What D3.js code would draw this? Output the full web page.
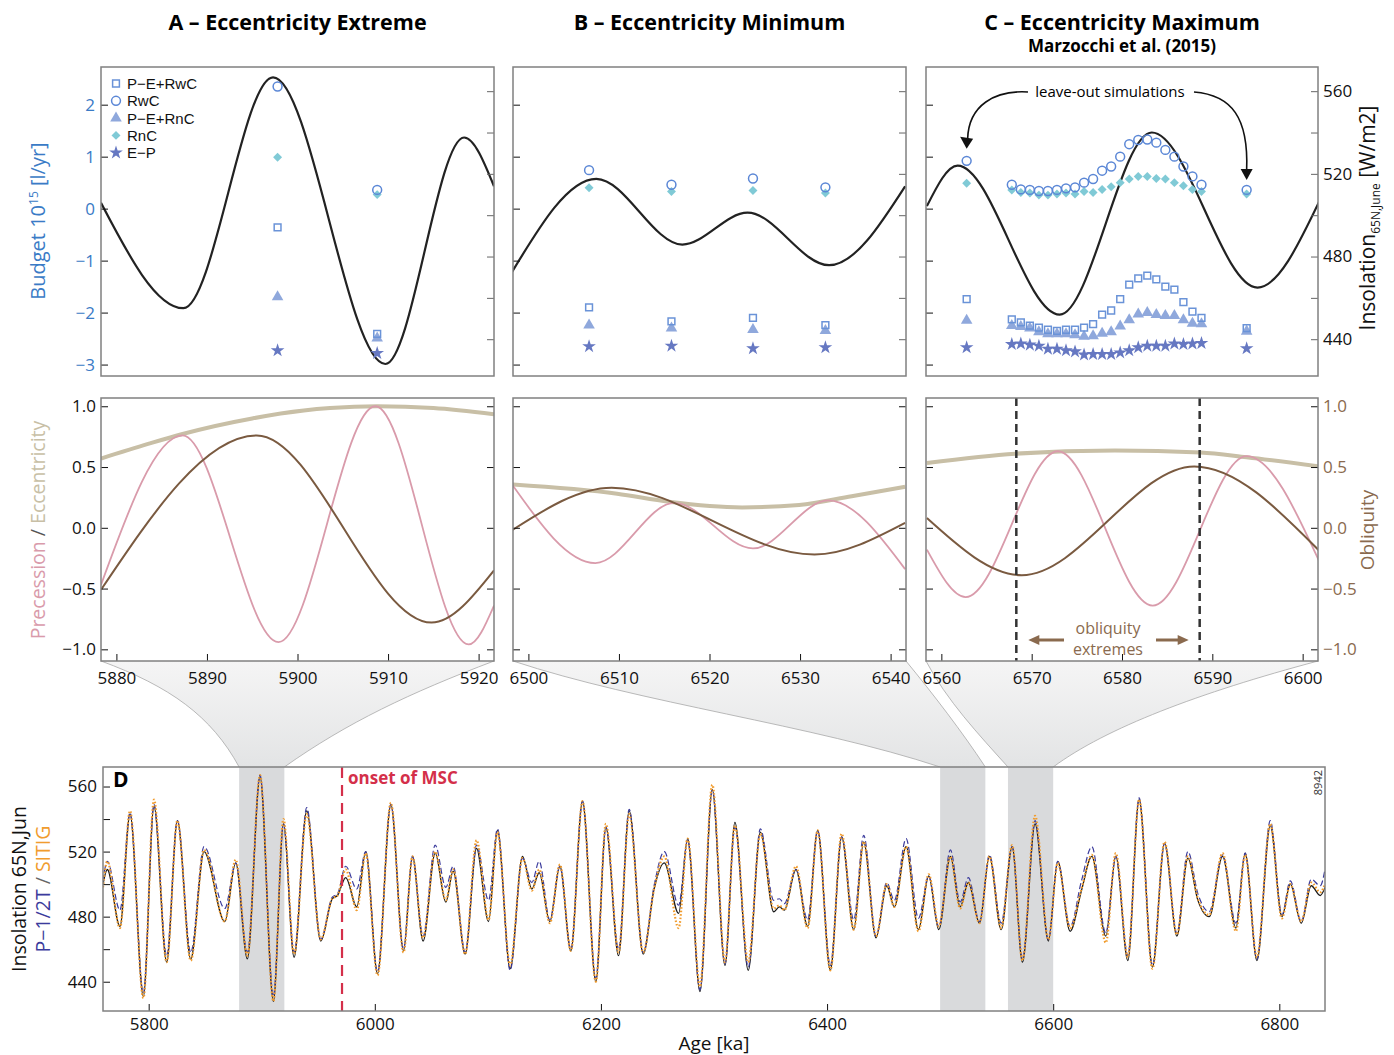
<!DOCTYPE html>
<html>
<head>
<meta charset="utf-8">
<script src="https://cdn.jsdelivr.net/npm/d3@7"></script>
<style>
  body { margin: 0; background: #fff; }
  text { font-family: "Open Sans", "Noto Sans", sans-serif; }
</style>
</head>
<body>
<svg id="chart" width="1394" height="1055"></svg>
<script>
// zoom windows (ka) and panel titles
const windowsKa = [[5880, 5920], [6500, 6540], [6560, 6600]];
const panelTitles = ["A – Eccentricity Extreme", "B – Eccentricity Minimum", "C – Eccentricity Maximum"];
const seriesNames = ["P−E+RwC", "RwC", "P−E+RnC", "RnC", "E−P"];
const mscOnset = 5971;
const obliquityExtremes = [6568.3, 6588.6];

// insolation 65N June in the zoom panels (W/m2)
const insolAgesA = [5878.3, 5887.4, 5897.3, 5909.7, 5918.4, 5921.7];
const insolValsA = [506, 455, 566.7, 428, 537.6, 514];
const insolAgesB = [6498.2, 6507.5, 6517.0, 6524.2, 6533.2, 6541.6];
const insolValsB = [472.6, 517.6, 485.8, 501.2, 475.8, 514];
const insolAgesC = [6558.4, 6561.8, 6573.1, 6583.3, 6595.0, 6601.8];
const insolValsC = [504.4, 524, 451.9, 540, 465, 506.3];

// budgets (10^15 l/yr) of the simulations
const simAgesA = [5897.8, 5908.8];
const pmeRwcA = [-0.36, -2.41];
const rwcA = [2.35, 0.36];
const pmeRncA = [-1.70, -2.49];
const rncA = [0.99, 0.27];
const epA = [-2.73, -2.78];

const simAgesB = [6506.7, 6515.8, 6524.8, 6532.8];
const pmeRwcB = [-1.90, -2.17, -2.10, -2.24];
const rwcB = [0.74, 0.46, 0.58, 0.41];
const pmeRncB = [-2.24, -2.30, -2.33, -2.35];
const rncB = [0.40, 0.33, 0.35, 0.30];
const epB = [-2.65, -2.64, -2.69, -2.67];

const simAgesC = [6562.8, 6567.8, 6568.8, 6569.8, 6570.8, 6571.8, 6572.8, 6573.8, 6574.8, 6575.8, 6576.8, 6577.8,
  6578.8, 6579.8, 6580.8, 6581.8, 6582.8, 6583.8, 6584.8, 6585.8, 6586.8, 6587.8, 6588.8, 6593.8];
const pmeRwcC = [-1.74, -2.13, -2.19, -2.25, -2.29, -2.33, -2.35, -2.33, -2.33, -2.29, -2.22, -2.04,
  -1.96, -1.74, -1.46, -1.34, -1.29, -1.36, -1.50, -1.56, -1.80, -1.98, -2.10, -2.30];
const rwcC = [0.92, 0.46, 0.37, 0.36, 0.34, 0.34, 0.36, 0.39, 0.41, 0.50, 0.57, 0.73,
  0.81, 1.00, 1.24, 1.32, 1.33, 1.27, 1.13, 1.00, 0.81, 0.62, 0.46, 0.36];
const pmeRncC = [-2.15, -2.25, -2.27, -2.30, -2.37, -2.41, -2.41, -2.41, -2.43, -2.46, -2.45, -2.40,
  -2.37, -2.26, -2.14, -2.03, -2.00, -2.04, -2.06, -2.06, -2.14, -2.21, -2.22, -2.36];
const rncC = [0.49, 0.36, 0.31, 0.30, 0.26, 0.26, 0.28, 0.30, 0.28, 0.33, 0.31, 0.37,
  0.42, 0.50, 0.57, 0.62, 0.62, 0.58, 0.57, 0.50, 0.44, 0.37, 0.33, 0.28];
const epC = [-2.67, -2.61, -2.60, -2.62, -2.64, -2.70, -2.70, -2.73, -2.75, -2.81, -2.80, -2.80,
  -2.80, -2.77, -2.73, -2.67, -2.64, -2.64, -2.64, -2.60, -2.61, -2.60, -2.59, -2.69];

// orbital parameters (normalised)
const eccAgesA = [5878.3, 5883.5, 5887.2, 5895, 5900.7, 5903.6, 5908.8, 5915, 5921.7];
const eccValsA = [0.57, 0.69, 0.77, 0.90, 0.965, 0.985, 1.0, 0.985, 0.935];
const precAgesA = [5878.3, 5887.3, 5897.9, 5908.6, 5918.9, 5921.7];
const precValsA = [-0.47, 0.76, -0.94, 1.0, -0.96, -0.64];
const oblAgesA = [5878.3, 5895.5, 5914.8, 5921.7];
const oblValsA = [-0.51, 0.76, -0.78, -0.35];

const eccAgesB = [6498.2, 6509.8, 6515.5, 6523.6, 6529.9, 6535.7, 6541.6];
const eccValsB = [0.356, 0.28, 0.214, 0.168, 0.188, 0.26, 0.337];
const precAgesB = [6498.2, 6507.4, 6516.1, 6524.8, 6533.1, 6541.6];
const precValsB = [0.356, -0.29, 0.205, -0.17, 0.225, -0.34];
const oblAgesB = [6498.2, 6509.2, 6531.6, 6541.6];
const oblValsB = [-0.02, 0.33, -0.22, 0.04];

const eccAgesC = [6558.4, 6568.2, 6579.2, 6588.7, 6593.8, 6601.8];
const eccValsC = [0.533, 0.61, 0.637, 0.62, 0.58, 0.505];
const precAgesC = [6558.4, 6562.7, 6572.9, 6583.4, 6593.8, 6601.8];
const precValsC = [-0.18, -0.57, 0.63, -0.64, 0.59, -0.27];
const oblAgesC = [6558.4, 6568.9, 6588.0, 6601.8];
const oblValsC = [0.08, -0.39, 0.505, -0.186];

// panel D: insolation 65N June, 5760-6840 ka (turning points)
const dAges = [5759.6, 5763.4, 5774.6, 5783.5, 5795.3, 5804.7, 5815.9, 5825.4, 5837.2, 5849, 5867.3, 5877,
  5887.3, 5898.5, 5910.3, 5919.2, 5928.6, 5939.8, 5952.2, 5962.4, 5967, 5974.3, 5984, 5992,
  6002.4, 6014.2, 6025.4, 6033.3, 6042.7, 6053.4, 6062.8, 6069.3, 6079.9, 6090, 6100.6, 6108.5,
  6119.7, 6130.6, 6138.9, 6145.4, 6154.8, 6163.7, 6173.4, 6183.7, 6195.5, 6204.4, 6215.6, 6225,
  6237.4, 6247, 6256, 6268.7, 6276.7, 6287.6, 6298.5, 6309.7, 6318.5, 6330.3, 6341, 6352.8,
  6357.8, 6362.2, 6372.5, 6382.8, 6391.7, 6402.9, 6412.9, 6423.6, 6432.4, 6443.3, 6452.8, 6459.5,
  6469.9, 6480.8, 6489.9, 6498.8, 6509.1, 6517.7, 6525, 6534.8, 6543.6, 6554, 6563.7, 6572.8,
  6584, 6595.8, 6604, 6615, 6625, 6634.2, 6646.5, 6655.4, 6666, 6676, 6687.8, 6698.5,
  6709.4, 6719.1, 6728, 6738, 6749.8, 6761.6, 6769.8, 6780.2, 6792, 6802.3, 6809.7, 6819.4,
  6828.2, 6836.2, 6840.4];
const dInsolation = [500, 509, 474, 543, 431, 548, 452, 539, 454, 520, 477, 513,
  454, 566, 428, 537, 455, 545, 465, 491, 493, 504, 486, 520,
  445, 549, 459, 517, 465, 519, 489, 508, 457, 522, 477, 533,
  448, 517, 497, 507, 477, 511, 459, 551, 440, 535, 456, 545,
  457, 497, 513, 482, 528, 434, 558, 450, 538, 447, 532, 483,
  486, 484, 509, 474, 533, 447, 529, 472, 526, 467, 499, 486,
  523, 472, 505, 472, 517, 486, 501, 476, 517, 472, 523, 452,
  537, 465, 514, 471, 496, 517, 468, 517, 453, 552, 449, 525,
  468, 516, 490, 480, 517, 473, 519, 453, 536, 480, 500, 476,
  499, 493, 498];
const dP12T = [502, 514, 484, 544, 433, 549, 456, 539, 458, 523, 485, 513,
  458, 567, 431, 537, 458, 547, 466, 492, 494, 511, 497, 520,
  446, 549, 460, 517, 468, 524, 498, 511, 458, 524, 490, 534,
  447, 516, 501, 514, 478, 511, 460, 551, 442, 535, 460, 546,
  458, 499, 520, 487, 527, 435, 558, 451, 535, 449, 534, 490,
  491, 488, 509, 478, 533, 450, 529, 478, 530, 468, 501, 490,
  528, 479, 505, 474, 521, 489, 504, 477, 518, 476, 523, 454,
  539, 466, 514, 474, 502, 523, 470, 517, 456, 553, 450, 525,
  470, 520, 494, 483, 518, 476, 519, 454, 539, 481, 502, 477,
  503, 499, 509];
const dSITIG = [498, 514, 473, 545, 430, 552, 452, 539, 453, 521, 477, 515,
  456, 567, 428, 540, 457, 543, 466, 491, 493, 509, 484, 519,
  444, 550, 458, 517, 467, 520, 490, 509, 457, 527, 478, 532,
  450, 516, 496, 509, 476, 512, 459, 551, 440, 537, 458, 543,
  458, 497, 517, 473, 528, 437, 561, 452, 536, 452, 531, 485,
  487, 484, 511, 473, 533, 447, 531, 472, 526, 468, 500, 486,
  523, 471, 506, 474, 517, 485, 501, 476, 517, 473, 524, 453,
  542, 466, 513, 473, 497, 518, 464, 519, 455, 552, 448, 526,
  469, 517, 491, 481, 519, 471, 518, 455, 537, 479, 500, 477,
  501, 495, 500];

// ---------------------------------------------------------------
const col = {
  budget: "#3a7bc6", prec: "#d99bab", ecc: "#c8bfa6", obl: "#7a5a40", oblText: "#8a6a4e",
  pmeRwc: "#6a93d8", rwc: "#5b87d6", pmeRnc: "#8fa8dc", rnc: "#80cad6", ep: "#6678c2",
  black: "#1a1a1a", blue: "#3b3b9c", orange: "#f19c2e", msc: "#d42f4a", band: "#d9dadc", frame: "#808080"
};

const svg = d3.select("#chart");
const panelX = [[101, 494], [513, 906], [926, 1318]];
const topY = [67, 376];
const midY = [398, 661];
const dBox = { x0: 103, x1: 1325, y0: 767, y1: 1011 };

const yBudget = d3.scaleLinear().domain([-3.22, 2.725]).range([topY[1], topY[0]]);
const yInsol = d3.scaleLinear().domain([422.2, 571.7]).range([topY[1], topY[0]]);
const yOrb = d3.scaleLinear().domain([-1.096, 1.068]).range([midY[1], midY[0]]);
const xD = d3.scaleLinear().domain([5759.6, 6840.4]).range([dBox.x0, dBox.x1]);
const yD = d3.scaleLinear().domain([422, 572]).range([dBox.y1, dBox.y0]);

const panels = [
  { insol: [insolAgesA, insolValsA], sims: [simAgesA, [pmeRwcA, rwcA, pmeRncA, rncA, epA]],
    ecc: [eccAgesA, eccValsA], prec: [precAgesA, precValsA], obl: [oblAgesA, oblValsA] },
  { insol: [insolAgesB, insolValsB], sims: [simAgesB, [pmeRwcB, rwcB, pmeRncB, rncB, epB]],
    ecc: [eccAgesB, eccValsB], prec: [precAgesB, precValsB], obl: [oblAgesB, oblValsB] },
  { insol: [insolAgesC, insolValsC], sims: [simAgesC, [pmeRwcC, rwcC, pmeRncC, rncC, epC]],
    ecc: [eccAgesC, eccValsC], prec: [precAgesC, precValsC], obl: [oblAgesC, oblValsC] }
];

const simStyles = [
  { type: d3.symbolSquare, size: 46, fill: "none", stroke: col.pmeRwc, rot: 0 },
  { type: d3.symbolCircle, size: 62, fill: "none", stroke: col.rwc, rot: 0 },
  { type: d3.symbolTriangle, size: 58, fill: col.pmeRnc, stroke: "none", rot: 0 },
  { type: d3.symbolSquare, size: 40, fill: col.rnc, stroke: "none", rot: 45 },
  { type: d3.symbolStar, size: 58, fill: col.ep, stroke: "none", rot: 0 }
];
const drawOrder = [2, 3, 4, 0, 1];

const zip = (a, b) => a.map((d, i) => [d, b[i]]);
const defs = svg.append("defs");

// gradient for the zoom funnels
const grad = defs.append("linearGradient").attr("id", "funnel").attr("x1", 0).attr("y1", 0).attr("x2", 0).attr("y2", 1);
grad.append("stop").attr("offset", "0%").attr("stop-color", "#f5f5f5");
grad.append("stop").attr("offset", "100%").attr("stop-color", "#e3e4e5");

// ---- funnels from middle panels to panel D
const funnelBends = [
  { left: [0.5, 0.24, 0.2, 0.48], right: [0.4, 0.3, 0.3, 0.42] },
  { left: [0.3, 0.4, 0.3, 0.4], right: [0.35, 0.32, 0.3, 0.34] },
  { left: [0.25, 0.37, 0.35, 0.3], right: [0.45, 0.3, 0.2, 0.37] }
];
function ctrl(p0, p1, b) {
  const dx = p1[0] - p0[0], dy = p1[1] - p0[1];
  return [[p0[0] + b[0] * dx, p0[1] + b[1] * dy], [p1[0] - b[2] * dx, p1[1] - b[3] * dy]];
}
windowsKa.forEach((w, i) => {
  const L0 = [panelX[i][0], midY[1]], R0 = [panelX[i][1], midY[1]];
  const L1 = [xD(w[0]), dBox.y0], R1 = [xD(w[1]), dBox.y0];
  const [lc1, lc2] = ctrl(L0, L1, funnelBends[i].left);
  const [rc1, rc2] = ctrl(R0, R1, funnelBends[i].right);
  const area = `M${L0}C${lc1} ${lc2} ${L1}L${R1}C${rc2} ${rc1} ${R0}Z`;
  svg.append("path").attr("d", area).attr("fill", "url(#funnel)");
  svg.append("path").attr("d", `M${L0}C${lc1} ${lc2} ${L1}`).attr("fill", "none").attr("stroke", "#a8a8a8").attr("stroke-width", 0.8);
  svg.append("path").attr("d", `M${R0}C${rc1} ${rc2} ${R1}`).attr("fill", "none").attr("stroke", "#a8a8a8").attr("stroke-width", 0.8);
});

function clip(id, x0, x1, y0, y1) {
  defs.append("clipPath").attr("id", id).append("rect").attr("x", x0).attr("y", y0).attr("width", x1 - x0).attr("height", y1 - y0);
  return `url(#${id})`;
}
function styleAxis(g, color, fontSize) {
  g.select(".domain").remove();
  g.selectAll(".tick line").attr("stroke", color.tick);
  g.selectAll(".tick text").attr("fill", color.text).style("font-size", fontSize + "px")
    .style("font-family", '"Open Sans", sans-serif');
}

// ---- top and middle panels
panels.forEach((p, i) => {
  const [xa, xb] = panelX[i];
  const w = windowsKa[i];
  const x = d3.scaleLinear().domain([w[0] - 1.7, w[1] + 1.7]).range([xa, xb]);

  // title
  svg.append("text").attr("x", (xa + xb) / 2).attr("y", 30).attr("text-anchor", "middle")
    .style("font-size", "21.5px").style("font-weight", "bold").text(panelTitles[i]);

  // --- top panel
  const gt = svg.append("g");
  gt.append("rect").attr("x", xa).attr("y", topY[0]).attr("width", xb - xa).attr("height", topY[1] - topY[0])
    .attr("fill", "#fff");
  const insolLine = d3.line().x(d => x(d[0])).y(d => yInsol(d[1])).curve(d3.curveMonotoneX);
  gt.append("path").datum(zip(p.insol[0], p.insol[1])).attr("d", insolLine)
    .attr("clip-path", clip("ct" + i, xa, xb, topY[0], topY[1]))
    .attr("fill", "none").attr("stroke", "#222").attr("stroke-width", 2.2);

  drawOrder.forEach(k => {
    const st = simStyles[k];
    const sym = d3.symbol().type(st.type).size(st.size);
    gt.selectAll(null).data(zip(p.sims[0], p.sims[1][k])).enter().append("path")
      .attr("d", sym)
      .attr("transform", d => `translate(${x(d[0])},${yBudget(d[1])}) rotate(${st.rot})`)
      .attr("fill", st.fill).attr("stroke", st.stroke).attr("stroke-width", 1.5);
  });

  const la = gt.append("g").attr("transform", `translate(${xa},0)`)
    .call(d3.axisLeft(yBudget).tickValues([-3, -2, -1, 0, 1, 2]).tickSizeInner(-7).tickSizeOuter(0)
      .tickPadding(6).tickFormat(i === 0 ? d3.format("d") : ""));
  styleAxis(la, { tick: "#111", text: col.budget }, 17);
  const ra = gt.append("g").attr("transform", `translate(${xb},0)`)
    .call(d3.axisRight(yInsol).tickValues(d3.range(440, 561, 20)).tickSizeInner(-7).tickSizeOuter(0)
      .tickPadding(5).tickFormat(d => (i === 2 && d % 40 === 0) ? d : ""));
  styleAxis(ra, { tick: "#666", text: "#111" }, 17);

  gt.append("rect").attr("x", xa).attr("y", topY[0]).attr("width", xb - xa).attr("height", topY[1] - topY[0])
    .attr("fill", "none").attr("stroke", col.frame).attr("stroke-width", 1.5);

  // --- middle panel
  const gm = svg.append("g");
  gm.append("rect").attr("x", xa).attr("y", midY[0]).attr("width", xb - xa).attr("height", midY[1] - midY[0])
    .attr("fill", "#fff");
  const orbLine = d3.line().x(d => x(d[0])).y(d => yOrb(d[1])).curve(d3.curveMonotoneX);
  const cm = clip("cm" + i, xa, xb, midY[0], midY[1]);
  gm.append("path").datum(zip(p.ecc[0], p.ecc[1])).attr("d", orbLine).attr("clip-path", cm)
    .attr("fill", "none").attr("stroke", col.ecc).attr("stroke-width", 4);
  gm.append("path").datum(zip(p.prec[0], p.prec[1])).attr("d", orbLine).attr("clip-path", cm)
    .attr("fill", "none").attr("stroke", col.prec).attr("stroke-width", 1.8);
  gm.append("path").datum(zip(p.obl[0], p.obl[1])).attr("d", orbLine).attr("clip-path", cm)
    .attr("fill", "none").attr("stroke", col.obl).attr("stroke-width", 2);

  const ml = gm.append("g").attr("transform", `translate(${xa},0)`)
    .call(d3.axisLeft(yOrb).tickValues([-1, -0.5, 0, 0.5, 1]).tickSizeInner(-7).tickSizeOuter(0)
      .tickPadding(5).tickFormat(i === 0 ? d3.format(".1f") : ""));
  styleAxis(ml, { tick: "#111", text: "#111" }, 17);
  const mr = gm.append("g").attr("transform", `translate(${xb},0)`)
    .call(d3.axisRight(yOrb).tickValues([-1, -0.5, 0, 0.5, 1]).tickSizeInner(-7).tickSizeOuter(0)
      .tickPadding(5).tickFormat(i === 2 ? d3.format(".1f") : ""));
  styleAxis(mr, { tick: "#111", text: col.oblText }, 17);
  const mb = gm.append("g").attr("transform", `translate(0,${midY[1]})`)
    .call(d3.axisBottom(x).tickValues(d3.range(w[0], w[1] + 1, 10)).tickSizeInner(-7).tickSizeOuter(0)
      .tickPadding(11).tickFormat(d3.format("d")));
  styleAxis(mb, { tick: "#111", text: "#111" }, 17);

  if (i === 2) {
    obliquityExtremes.forEach(a => {
      gm.append("line").attr("x1", x(a)).attr("x2", x(a)).attr("y1", midY[0]).attr("y2", midY[1])
        .attr("stroke", "#333").attr("stroke-width", 2.5).attr("stroke-dasharray", "8,5");
    });
    const xm = (x(obliquityExtremes[0]) + x(obliquityExtremes[1])) / 2;
    gm.append("text").attr("x", xm).attr("y", 634).attr("text-anchor", "middle").attr("fill", col.oblText)
      .style("font-size", "16px").text("obliquity");
    gm.append("text").attr("x", xm).attr("y", 655).attr("text-anchor", "middle").attr("fill", col.oblText)
      .style("font-size", "16px").text("extremes");
    const ay = 640;
    [[xm - 44, x(obliquityExtremes[0]) + 12], [xm + 48, x(obliquityExtremes[1]) - 11]].forEach(([s, e]) => {
      const dir = Math.sign(e - s);
      gm.append("line").attr("x1", s).attr("x2", e - dir * 8).attr("y1", ay).attr("y2", ay)
        .attr("stroke", col.oblText).attr("stroke-width", 3);
      gm.append("path").attr("d", `M${e},${ay}L${e - dir * 11},${ay - 5}L${e - dir * 11},${ay + 5}Z`)
        .attr("fill", col.oblText);
    });
  }
  gm.append("rect").attr("x", xa).attr("y", midY[0]).attr("width", xb - xa).attr("height", midY[1] - midY[0])
    .attr("fill", "none").attr("stroke", col.frame).attr("stroke-width", 1.5);

  // leave-out annotation for panel C
  if (i === 2) {
    const n = simAgesC.length - 1;
    const tipL = [x(simAgesC[0]), yBudget(rwcC[0]) - 12];
    const tipR = [x(simAgesC[n]), yBudget(rwcC[n]) - 10];
    svg.append("text").attr("x", 1110).attr("y", 97).attr("text-anchor", "middle")
      .style("font-size", "15px").text("leave-out simulations");
    svg.append("path").attr("d", `M1028,92C995,90 ${tipL[0] + 2},105 ${tipL[0] + 1},${tipL[1] - 10}`)
      .attr("fill", "none").attr("stroke", "#111").attr("stroke-width", 1.6);
    svg.append("path").attr("d", `M${tipL[0]},${tipL[1]}L${tipL[0] - 6.5},${tipL[1] - 12}L${tipL[0] + 6.5},${tipL[1] - 10}Z`)
      .attr("fill", "#111");
    svg.append("path").attr("d", `M1194,92C1232,95 ${tipR[0] + 2},118 ${tipR[0]},${tipR[1] - 10}`)
      .attr("fill", "none").attr("stroke", "#111").attr("stroke-width", 1.6);
    svg.append("path").attr("d", `M${tipR[0]},${tipR[1]}L${tipR[0] - 6},${tipR[1] - 11}L${tipR[0] + 6},${tipR[1] - 11}Z`)
      .attr("fill", "#111");
  }
});

// subtitle panel C
svg.append("text").attr("x", (panelX[2][0] + panelX[2][1]) / 2).attr("y", 52).attr("text-anchor", "middle")
  .style("font-size", "17px").style("font-weight", "bold").text("Marzocchi et al. (2015)");

// legend in panel A
seriesNames.forEach((name, k) => {
  const st = simStyles[k];
  const yy = 83.5 + k * 17.3;
  svg.append("path").attr("d", d3.symbol().type(st.type).size(st.size))
    .attr("transform", `translate(116,${yy}) rotate(${st.rot})`)
    .attr("fill", st.fill).attr("stroke", st.stroke).attr("stroke-width", 1.5);
  svg.append("text").attr("x", 127).attr("y", yy + 5.5).attr("fill", "#111")
    .style("font-family", '"Liberation Sans", Arial, sans-serif').style("font-size", "15px").text(name);
});

// axis titles top/middle
const bud = svg.append("text").attr("transform", "translate(45,221) rotate(-90)").attr("text-anchor", "middle")
  .attr("fill", col.budget).style("font-size", "20px");
bud.append("tspan").text("Budget 10");
bud.append("tspan").attr("dy", -7).style("font-size", "12px").text("15");
bud.append("tspan").attr("dy", 7).text(" [l/yr]");

const ins = svg.append("text").attr("transform", "translate(1375,218) rotate(-90)").attr("text-anchor", "middle")
  .attr("fill", "#111").style("font-size", "21px");
ins.append("tspan").text("Insolation");
ins.append("tspan").attr("dy", 5).style("font-size", "12px").text("65N,June");
ins.append("tspan").attr("dy", -5).text(" [W/m2]");

const pe = svg.append("text").attr("transform", "translate(45,530) rotate(-90)").attr("text-anchor", "middle")
  .style("font-size", "19.5px");
pe.append("tspan").attr("fill", col.prec).text("Precession");
pe.append("tspan").attr("fill", "#555").text(" / ");
pe.append("tspan").attr("fill", col.ecc).text("Eccentricity");

svg.append("text").attr("transform", "translate(1374,530) rotate(-90)").attr("text-anchor", "middle")
  .attr("fill", col.oblText).style("font-size", "19px").text("Obliquity");

// ---- panel D
const gd = svg.append("g");
gd.append("rect").attr("x", dBox.x0).attr("y", dBox.y0).attr("width", dBox.x1 - dBox.x0).attr("height", dBox.y1 - dBox.y0)
  .attr("fill", "#fff");
gd.selectAll(null).data(windowsKa).enter().append("rect")
  .attr("x", d => xD(d[0])).attr("width", d => xD(d[1]) - xD(d[0]))
  .attr("y", dBox.y0).attr("height", dBox.y1 - dBox.y0).attr("fill", col.band);

const cd = clip("cd", dBox.x0, dBox.x1, dBox.y0, dBox.y1);
const dLine = d3.line().x(d => xD(d[0])).y(d => yD(d[1])).curve(d3.curveMonotoneX);
gd.append("path").datum(zip(dAges, dInsolation)).attr("d", dLine).attr("clip-path", cd)
  .attr("fill", "none").attr("stroke", col.black).attr("stroke-width", 1.3);
gd.append("path").datum(zip(dAges, dP12T)).attr("d", dLine).attr("clip-path", cd)
  .attr("fill", "none").attr("stroke", col.blue).attr("stroke-width", 1.2).attr("stroke-dasharray", "6,3");
gd.append("path").datum(zip(dAges, dSITIG)).attr("d", dLine).attr("clip-path", cd)
  .attr("fill", "none").attr("stroke", col.orange).attr("stroke-width", 2.2).attr("stroke-dasharray", "1.6,1.9");

gd.append("line").attr("x1", xD(mscOnset)).attr("x2", xD(mscOnset)).attr("y1", dBox.y0).attr("y2", dBox.y1)
  .attr("stroke", col.msc).attr("stroke-width", 2.2).attr("stroke-dasharray", "11,7");
gd.append("text").attr("x", xD(mscOnset) + 6).attr("y", 784).attr("fill", col.msc)
  .style("font-size", "17px").style("font-weight", "bold").text("onset of MSC");
gd.append("text").attr("x", dBox.x0 + 10).attr("y", 787).style("font-size", "21px").style("font-weight", "bold").text("D");
gd.append("text").attr("transform", `translate(${dBox.x1 - 3},${dBox.y0 + 3}) rotate(-90)`).attr("text-anchor", "end")
  .attr("fill", "#333").style("font-size", "11px").text("8942");

const dl = gd.append("g").attr("transform", `translate(${dBox.x0},0)`)
  .call(d3.axisLeft(yD).tickValues(d3.range(440, 561, 20)).tickSizeInner(-7).tickSizeOuter(0)
    .tickPadding(6).tickFormat(d => d % 40 === 0 ? d : ""));
styleAxis(dl, { tick: "#111", text: "#111" }, 17);
const db = gd.append("g").attr("transform", `translate(0,${dBox.y1})`)
  .call(d3.axisBottom(xD).tickValues(d3.range(5800, 6801, 200)).tickSizeInner(-7).tickSizeOuter(0)
    .tickPadding(7).tickFormat(d3.format("d")));
styleAxis(db, { tick: "#111", text: "#111" }, 17);
gd.append("rect").attr("x", dBox.x0).attr("y", dBox.y0).attr("width", dBox.x1 - dBox.x0).attr("height", dBox.y1 - dBox.y0)
  .attr("fill", "none").attr("stroke", col.frame).attr("stroke-width", 1.5);

svg.append("text").attr("x", (dBox.x0 + dBox.x1) / 2).attr("y", 1050).attr("text-anchor", "middle")
  .style("font-size", "19px").attr("fill", "#111").text("Age [ka]");
svg.append("text").attr("transform", "translate(26,889) rotate(-90)").attr("text-anchor", "middle")
  .style("font-size", "19.5px").attr("fill", "#111").text("Insolation 65N,Jun");
const ps = svg.append("text").attr("transform", "translate(50,889) rotate(-90)").attr("text-anchor", "middle")
  .style("font-size", "19.5px");
ps.append("tspan").attr("fill", col.blue).text("P−1/2T");
ps.append("tspan").attr("fill", "#666").text(" / ");
ps.append("tspan").attr("fill", col.orange).text("SITIG");
</script>
</body>
</html>
